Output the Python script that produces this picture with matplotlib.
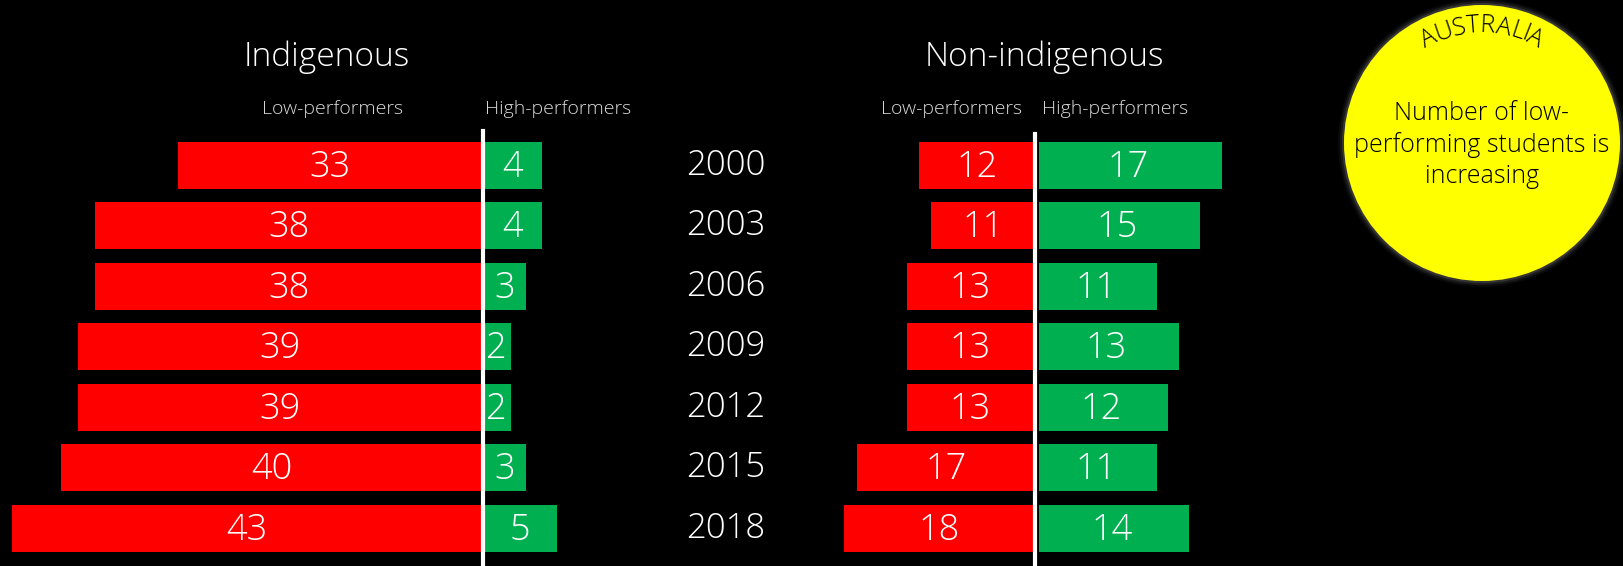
import matplotlib
matplotlib.use('Agg')

import matplotlib.pyplot as plt
import matplotlib.transforms as mtransforms
from matplotlib.patches import Circle
from matplotlib.textpath import TextPath
from matplotlib.font_manager import FontProperties
import numpy as np

# data
years = ['2000', '2003', '2006', '2009', '2012', '2015', '2018']
indig_low = [33, 38, 38, 39, 39, 40, 43]
indig_high = [4, 4, 3, 2, 2, 3, 5]
nonindig_low = [12, 11, 13, 13, 13, 17, 18]
nonindig_high = [17, 15, 11, 13, 12, 11, 14]

RED = '#FF0000'
GREEN = '#00B050'
FONT = 'Open Sans'
LIGHT = 300

W, H = 1624, 566
fig = plt.figure(figsize=(W / 100, H / 100), dpi=100, facecolor='black')

# overlay axes in pixel units for titles / circle
ov = fig.add_axes([0, 0, 1, 1])
ov.set_xlim(0, W)
ov.set_ylim(H, 0)
ov.axis('off')
ov.set_facecolor('none')

rows = np.arange(len(years))
Y0, Y1 = 135, 558.5


def px_axes(x0, x1):
    ax = fig.add_axes([x0 / W, 1 - Y1 / H, (x1 - x0) / W, (Y1 - Y0) / H])
    ax.axis('off')
    ax.set_facecolor('none')
    ax.set_ylim(len(years) - 0.5, -0.5)
    return ax


def draw_side(ax, values, lim, color, inner):
    ax.set_xlim(*lim)
    ax.barh(rows, values, height=0.77, color=color)
    for r, v in zip(rows, values):
        ax.text((v + inner) / 2, r + 0.03, str(v), color='white', fontsize=26,
                family=FONT, weight=LIGHT, ha='center', va='center')


# Indigenous panel
axL_red = px_axes(0, 482.6)
draw_side(axL_red, indig_low, (43.7, 14.64), RED, 14.64)
axL_grn = px_axes(482.6, 640)
draw_side(axL_grn, indig_high, (0.2, 10.33), GREEN, 0.2)
axL_grn.axvline(0.2, ymin=-0.02, ymax=1 + 4 / (Y1 - Y0), color='white',
                lw=3, clip_on=False, zorder=5)

# Non-indigenous panel
axR_red = px_axes(760, 1034.7)
draw_side(axR_red, nonindig_low, (24.79, 2.69), RED, 2.69)
axR_grn = px_axes(1034.7, 1300)
draw_side(axR_grn, nonindig_high, (-0.39, 24.3), GREEN, -0.39)
axR_grn.axvline(-0.39, ymin=-0.02, ymax=1 + 1 / (Y1 - Y0), color='white',
                lw=3, clip_on=False, zorder=5)

# year labels in the middle
tr = mtransforms.blended_transform_factory(fig.transFigure, axL_red.transData)
for r, y in zip(rows, years):
    fig.text(726 / W, r, y, transform=tr, color='white', fontsize=25,
             family=FONT, weight=LIGHT, ha='center', va='center')

# titles
ov.text(327, 57, 'Indigenous', color='white', fontsize=24, family=FONT,
        weight=LIGHT, ha='center', va='center')
ov.text(1044, 57, 'Non-indigenous', color='white', fontsize=24, family=FONT,
        weight=LIGHT, ha='center', va='center')
for x, s in [(333, 'Low-performers'), (558, 'High-performers'),
             (952, 'Low-performers'), (1115, 'High-performers')]:
    ov.text(x, 109, s, color='#D9D9D9', fontsize=14, family=FONT,
            weight=LIGHT, ha='center', va='center')

# yellow callout circle with soft glow
cx, cy, rad = 1482, 143, 138
for k, a in [(6, 0.04), (4, 0.07), (2, 0.12)]:
    ov.add_patch(Circle((cx, cy), rad + k, color='white', alpha=a, lw=0))
ov.add_patch(Circle((cx, cy), rad, color='#FFFF00', lw=0))

ov.text(cx, 145, 'Number of low-\nperforming students is\nincreasing',
        color='black', fontsize=18, family=FONT, weight=LIGHT,
        ha='center', va='center', linespacing=1.3)

# curved "AUSTRALIA"
word = 'AUSTRALIA'
fsz = 18
fp = FontProperties(family=FONT, weight=LIGHT, size=fsz)
widths = [TextPath((0, 0), ch, prop=fp).get_extents().width * 100 / 72 for ch in word]
gap = 2.5
total = sum(widths) + gap * (len(word) - 1)
r_txt = 117
pos = -total / 2
for ch, w in zip(word, widths):
    s = pos + w / 2
    th = s / r_txt
    x = cx + r_txt * np.sin(th)
    y = cy - r_txt * np.cos(th)
    ov.text(x, y, ch, color='black', fontsize=fsz, family=FONT, weight=LIGHT,
            ha='center', va='center', rotation=-np.degrees(th),
            rotation_mode='anchor')
    pos += w + gap

fig.savefig('out.png', dpi=100, facecolor='black')
